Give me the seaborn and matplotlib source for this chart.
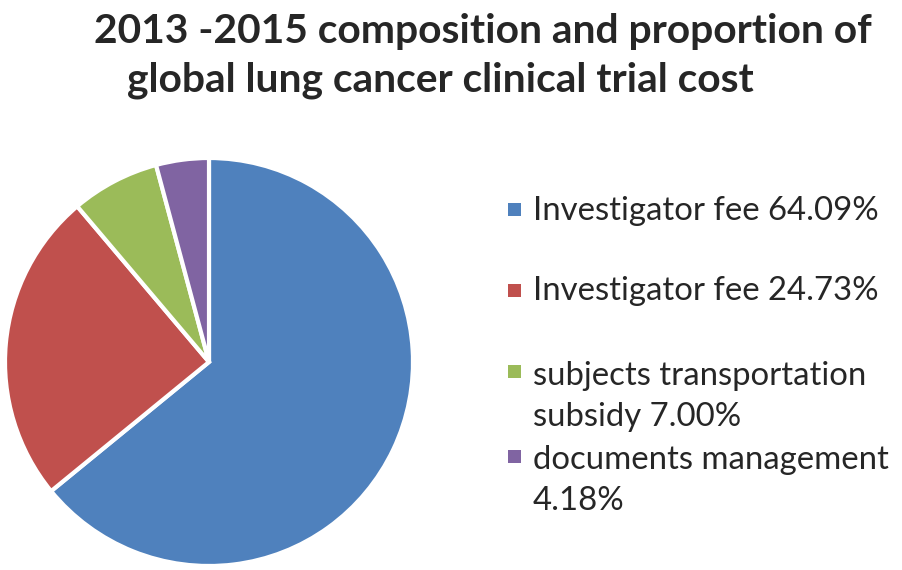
import matplotlib
matplotlib.use('Agg')
import matplotlib.pyplot as plt
import seaborn as sns
from matplotlib.patches import Rectangle

# data
categories = ['Investigator fee', 'Investigator fee',
              'subjects transportation\nsubsidy', 'documents management\n']
shares = [64.09, 24.73, 7.00, 4.18]
colors = ['#4F81BD', '#C0504D', '#9BBB59', '#8064A2']
title_lines = ['2013 -2015 composition and proportion of',
               'global lung cancer clinical trial cost']

sns.set_theme(style='white')
plt.rcParams['font.family'] = ['Lato', 'DejaVu Sans']

W, H = 902, 570
fig = plt.figure(figsize=(W / 100, H / 100), dpi=100)

# pie axes: centre ~ (209, 362) px, radius ~ 203 px
r = 204
cx, cy = 209, 362
ax = fig.add_axes([(cx - r) / W, (H - cy - r) / H, 2 * r / W, 2 * r / H])
ax.pie(shares, colors=colors, startangle=90, counterclock=False,
       wedgeprops=dict(edgecolor='white', linewidth=3))
ax.set_aspect('equal')
ax.set_xlim(-1, 1)
ax.set_ylim(-1, 1)
ax.axis('off')

# title
fig.text(483 / W, 1 - 31 / H, title_lines[0], ha='center', va='center',
         fontsize=29.3, fontweight='bold')
fig.text(440 / W, 1 - 80 / H, title_lines[1], ha='center', va='center',
         fontsize=29.3, fontweight='bold')

# legend: marker centres and baseline of the last text line, px from top
marker_y = [210, 291, 372, 457]
last_baseline = [220, 300, 426, 510]
for lab, val, col, ym, yb in zip(categories, shares, colors, marker_y, last_baseline):
    if lab.endswith('\n'):
        txt = lab + f'{val:.2f}%'
    elif '\n' in lab:
        txt = lab + f' {val:.2f}%'
    else:
        txt = f'{lab} {val:.2f}%'
    fig.patches.append(Rectangle((508 / W, 1 - (ym + 6) / H), 13 / W, 13 / H,
                                 transform=fig.transFigure, facecolor=col,
                                 edgecolor='none'))
    fig.text(533 / W, 1 - yb / H, txt, ha='left', va='baseline',
             fontsize=23.7, linespacing=1.44)

fig.savefig('out.png', dpi=100)
